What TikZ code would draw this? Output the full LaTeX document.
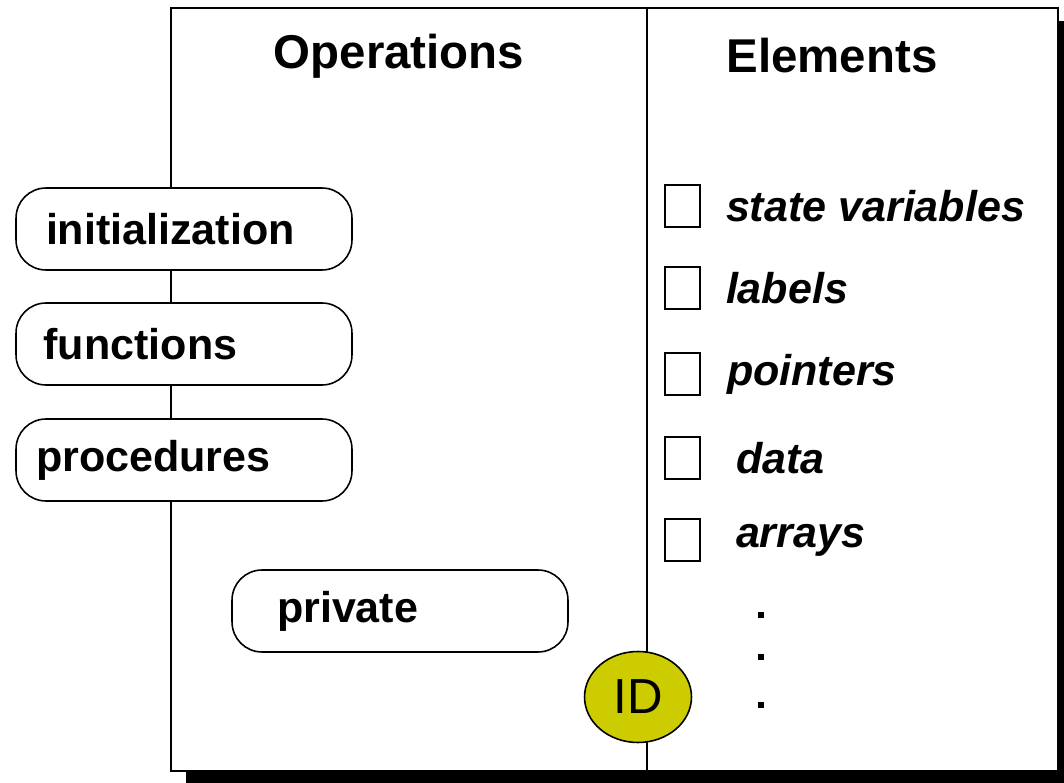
\documentclass[tikz,border=0pt]{standalone}
\usepackage{fontspec}
\setmainfont{Liberation Sans}
\usepackage{xcolor}
\usetikzlibrary{shapes.geometric}
\definecolor{idyellow}{HTML}{CCCC00}
\tikzset{title label/.style={font=\fontsize{27}{32}\selectfont\bfseries},big label/.style={font=\fontsize{24.5}{30}\selectfont\bfseries},elem label/.style={font=\fontsize{24.5}{30}\selectfont\bfseries\itshape,anchor=west},op box/.style={draw,line width=0.9pt,fill=white,rounded corners=0.6cm,minimum width=6.72cm,minimum height=1.64cm,inner xsep=0.6cm,text width=5.52cm,align=left,big label},check box/.style={draw,line width=0.9pt,minimum width=0.7cm,minimum height=0.84cm,inner sep=0pt}}

\begin{document}
\begin{tikzpicture}[x=0.02cm,y=-0.02cm]
			\clip (0,0) rectangle (1064,783);
			\fill[white] (0,0) rectangle (1064,783);
			% shadow and frame
			\fill[black] (186,21) rectangle (1075,790);
			\draw[line width=1.1pt,fill=white] (171,8) rectangle (1058,771);
			\coordinate (divtop) at (647,8);
			\coordinate (divbot) at (647,771);
			\draw[line width=0.9pt] (divtop) -- (divbot);
			\node[title label] (ops) at (399,56) {Operations};
			\node[title label] (elems) at (832,56) {Elements};
			% operations
			\node[op box] (init) at (184,229) {initialization};
			\node[op box,inner xsep=0.55cm,text width=5.62cm] (func) at (184,344) {functions};
			\node[op box,inner xsep=0.4cm,text width=5.92cm] (proc) at (184,460) {procedures};
			\node[op box,inner xsep=0.9cm,text width=4.92cm] (priv) at (400,611) {private};
			\node[ellipse,draw,line width=0.9pt,fill=idyellow,minimum width=2.14cm,minimum height=1.82cm,font=\fontsize{28}{32}\selectfont] (id) at (638,697) {ID};
			% elements
			\foreach \y/\name/\txt/\dx in {206/sv/state variables/0,288/lab/labels/0,374/ptr/pointers/1,458/dat/data/10,540/arr/arrays/10}{
				\node[check box] (box\name) at (682.5,\y) {};
				\node[elem label] (txt\name) at ([xshift=\dx*0.02cm]box\name.east) [xshift=0.38cm] {\txt};
			}
			\foreach \y/\name in {615/a,657/b,705/c}
				\node[fill=black,inner sep=0pt,minimum size=0.11cm] (dot\name) at (761,\y) {};
		\end{tikzpicture}
\end{document}
